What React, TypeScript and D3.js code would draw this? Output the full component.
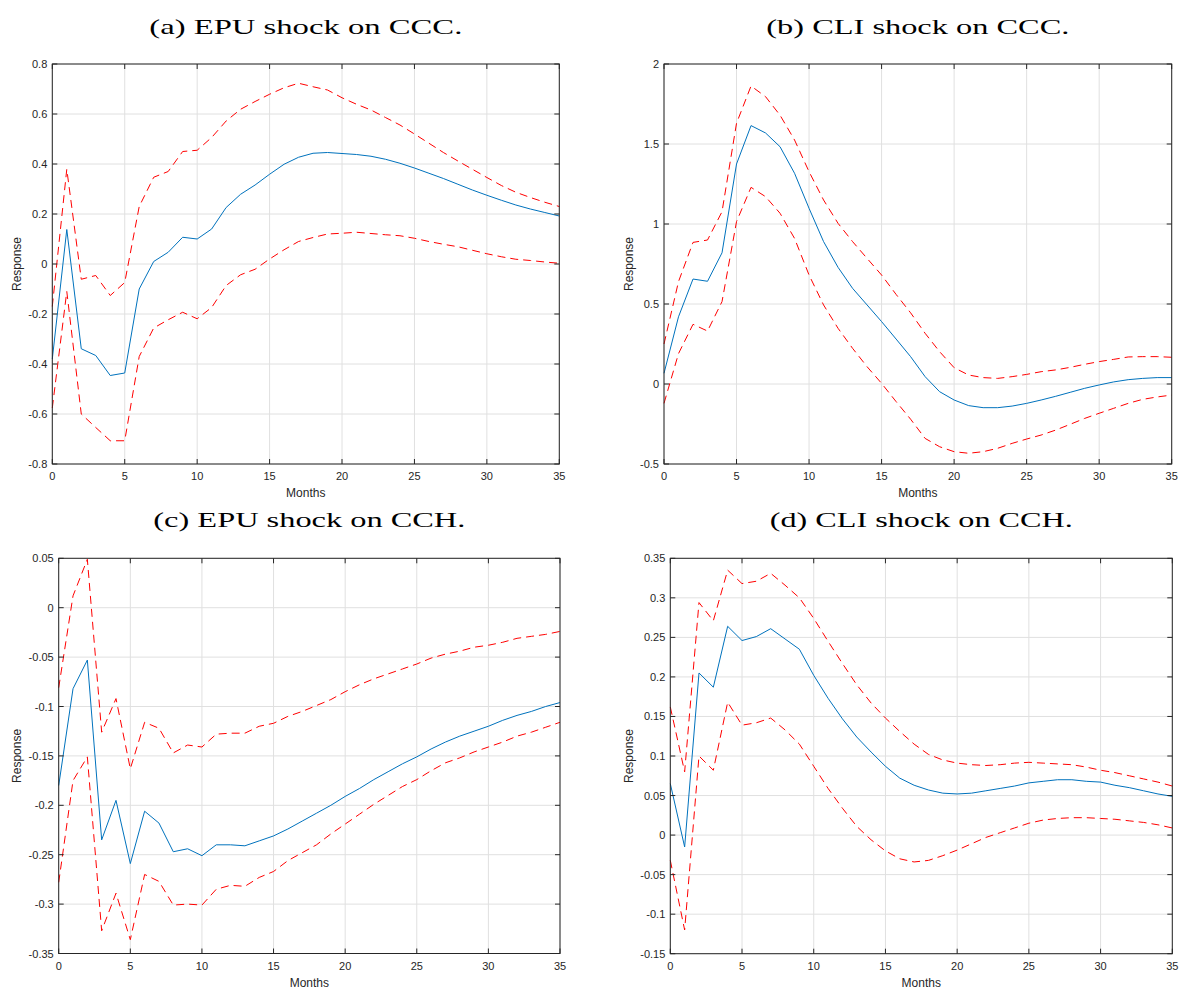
import React from "react";
import * as d3 from "d3";

const months = [0,1,2,3,4,5,6,7,8,9,10,11,12,13,14,15,16,17,18,19,20,21,22,23,24,25,26,27,28,29,30,31,32,33,34,35];
const xTicks = [0, 5, 10, 15, 20, 25, 30, 35];

// (a) EPU shock on CCC
const aMid = [-0.38, 0.138, -0.339, -0.366, -0.446, -0.436, -0.10, 0.01, 0.047, 0.107, 0.10, 0.14, 0.226, 0.279, 0.316, 0.359, 0.399, 0.427, 0.443, 0.446, 0.442, 0.438, 0.431, 0.419, 0.403, 0.384, 0.363, 0.342, 0.319, 0.296, 0.275, 0.255, 0.236, 0.22, 0.206, 0.192];
const aUp = [-0.17, 0.379, -0.061, -0.046, -0.126, -0.074, 0.23, 0.347, 0.37, 0.45, 0.455, 0.506, 0.572, 0.619, 0.65, 0.679, 0.705, 0.723, 0.709, 0.696, 0.665, 0.639, 0.616, 0.586, 0.556, 0.52, 0.483, 0.446, 0.412, 0.379, 0.346, 0.314, 0.287, 0.266, 0.247, 0.23];
const aLo = [-0.576, -0.11, -0.60, -0.654, -0.707, -0.707, -0.37, -0.256, -0.223, -0.193, -0.219, -0.174, -0.086, -0.043, -0.021, 0.02, 0.057, 0.09, 0.106, 0.12, 0.123, 0.127, 0.122, 0.117, 0.113, 0.103, 0.09, 0.079, 0.069, 0.055, 0.041, 0.029, 0.019, 0.014, 0.008, 0.003];
const aYTicks = [-0.8, -0.6, -0.4, -0.2, 0, 0.2, 0.4, 0.6, 0.8];

// (b) CLI shock on CCC
const bMid = [0.067, 0.42, 0.656, 0.642, 0.82, 1.375, 1.615, 1.569, 1.483, 1.317, 1.098, 0.89, 0.729, 0.598, 0.494, 0.39, 0.281, 0.171, 0.046, -0.048, -0.1, -0.135, -0.148, -0.148, -0.138, -0.121, -0.1, -0.077, -0.052, -0.027, -0.006, 0.013, 0.027, 0.035, 0.04, 0.04];
const bUp = [0.25, 0.64, 0.885, 0.9, 1.077, 1.63, 1.8625, 1.796, 1.68, 1.525, 1.327, 1.15, 1.004, 0.89, 0.785, 0.681, 0.56, 0.445, 0.317, 0.202, 0.102, 0.056, 0.04, 0.035, 0.046, 0.06, 0.077, 0.088, 0.104, 0.123, 0.14, 0.154, 0.169, 0.171, 0.171, 0.167];
const bLo = [-0.121, 0.19, 0.373, 0.331, 0.515, 1.015, 1.229, 1.171, 1.067, 0.91, 0.681, 0.494, 0.348, 0.223, 0.108, 0.004, -0.11, -0.22, -0.34, -0.392, -0.423, -0.433, -0.423, -0.402, -0.371, -0.344, -0.319, -0.288, -0.252, -0.215, -0.183, -0.152, -0.121, -0.096, -0.081, -0.069];
const bYTicks = [-0.5, 0, 0.5, 1, 1.5, 2];

// (c) EPU shock on CCH
const cMid = [-0.18, -0.082, -0.053, -0.235, -0.195, -0.259, -0.206, -0.218, -0.247, -0.244, -0.251, -0.240, -0.240, -0.241, -0.236, -0.231, -0.224, -0.216, -0.208, -0.2, -0.191, -0.183, -0.174, -0.166, -0.158, -0.151, -0.143, -0.136, -0.130, -0.125, -0.12, -0.114, -0.109, -0.105, -0.1, -0.096];
const cUp = [-0.081, 0.012, 0.049, -0.126, -0.092, -0.163, -0.116, -0.122, -0.147, -0.139, -0.141, -0.128, -0.127, -0.127, -0.12, -0.117, -0.110, -0.105, -0.099, -0.093, -0.085, -0.078, -0.072, -0.067, -0.062, -0.057, -0.051, -0.047, -0.044, -0.040, -0.038, -0.035, -0.031, -0.029, -0.027, -0.024];
const cLo = [-0.278, -0.175, -0.151, -0.327, -0.289, -0.336, -0.27, -0.277, -0.301, -0.3, -0.301, -0.285, -0.281, -0.282, -0.273, -0.267, -0.256, -0.248, -0.24, -0.229, -0.219, -0.209, -0.199, -0.19, -0.181, -0.174, -0.165, -0.157, -0.152, -0.146, -0.141, -0.136, -0.130, -0.126, -0.121, -0.116];
const cYTicks = [-0.35, -0.3, -0.25, -0.2, -0.15, -0.1, -0.05, 0, 0.05];

// (d) CLI shock on CCH
const dMid = [0.065, -0.015, 0.205, 0.187, 0.264, 0.246, 0.251, 0.261, 0.248, 0.235, 0.202, 0.173, 0.147, 0.124, 0.105, 0.087, 0.072, 0.063, 0.057, 0.053, 0.052, 0.053, 0.056, 0.059, 0.062, 0.066, 0.068, 0.07, 0.07, 0.068, 0.067, 0.063, 0.06, 0.056, 0.052, 0.049];
const dUp = [0.162, 0.08, 0.294, 0.271, 0.335, 0.318, 0.321, 0.331, 0.316, 0.30, 0.274, 0.245, 0.217, 0.19, 0.167, 0.148, 0.131, 0.115, 0.102, 0.095, 0.091, 0.089, 0.088, 0.089, 0.091, 0.092, 0.091, 0.09, 0.089, 0.086, 0.082, 0.079, 0.075, 0.071, 0.067, 0.062];
const dLo = [-0.032, -0.12, 0.10, 0.082, 0.168, 0.139, 0.142, 0.148, 0.133, 0.115, 0.087, 0.059, 0.034, 0.011, -0.006, -0.02, -0.03, -0.034, -0.032, -0.026, -0.019, -0.011, -0.003, 0.003, 0.009, 0.015, 0.019, 0.021, 0.022, 0.022, 0.021, 0.02, 0.018, 0.016, 0.013, 0.009];
const dYTicks = [-0.15, -0.1, -0.05, 0, 0.05, 0.1, 0.15, 0.2, 0.25, 0.3, 0.35];

const titles = ["(a) EPU shock on CCC.", "(b) CLI shock on CCC.", "(c) EPU shock on CCH.", "(d) CLI shock on CCH."];

const panels = [
  { title: titles[0], mid: aMid, up: aUp, lo: aLo, yTicks: aYTicks, left: 52.3, right: 559.3, top: 64, bottom: 464, titleY: 34, titleW: 313, ylabX: 21 },
  { title: titles[1], mid: bMid, up: bUp, lo: bLo, yTicks: bYTicks, left: 664, right: 1171.7, top: 64, bottom: 464, titleY: 34, titleW: 303, ylabX: 633 },
  { title: titles[2], mid: cMid, up: cUp, lo: cLo, yTicks: cYTicks, left: 58.7, right: 560, top: 558.3, bottom: 953.5, titleY: 527, titleW: 312, ylabX: 21 },
  { title: titles[3], mid: dMid, up: dUp, lo: dLo, yTicks: dYTicks, left: 670.3, right: 1172.3, top: 558.3, bottom: 953.7, titleY: 527, titleW: 303, ylabX: 633 },
];

const AX = "#262626";
const GRID = "#e0e0e0";
const SANS = "'Liberation Sans', Arial, Helvetica, sans-serif";
const SERIF = "'Liberation Serif', 'Times New Roman', serif";

function fmt(v: number) {
  return String(+v.toFixed(2));
}

function Panel({ p }: { p: typeof panels[number] }) {
  const x = d3.scaleLinear().domain([0, 35]).range([p.left, p.right]);
  const yExt = d3.extent(p.yTicks) as [number, number];
  const y = d3.scaleLinear().domain(yExt).range([p.bottom, p.top]);
  const line = d3.line<number>().x((_, i) => x(months[i])).y((d) => y(d));
  const tl = 5;
  const cx = (p.left + p.right) / 2;
  return (
    <g>
      <text x={cx} y={p.titleY} textAnchor="middle" fontFamily={SERIF} fontSize={22} fill="#000"
        textLength={p.titleW} lengthAdjust="spacingAndGlyphs">{p.title}</text>
      {xTicks.map((t) => (
        <line key={"gx" + t} x1={x(t)} x2={x(t)} y1={p.top} y2={p.bottom} stroke={GRID} strokeWidth={1} />
      ))}
      {p.yTicks.map((t) => (
        <line key={"gy" + t} x1={p.left} x2={p.right} y1={y(t)} y2={y(t)} stroke={GRID} strokeWidth={1} />
      ))}
      <path d={line(p.up) || ""} fill="none" stroke="#ff0000" strokeWidth={1} strokeDasharray="8,5" />
      <path d={line(p.lo) || ""} fill="none" stroke="#ff0000" strokeWidth={1} strokeDasharray="8,5" />
      <path d={line(p.mid) || ""} fill="none" stroke="#0072bd" strokeWidth={1} />
      <rect x={p.left} y={p.top} width={p.right - p.left} height={p.bottom - p.top} fill="none" stroke={AX} strokeWidth={1} />
      {xTicks.map((t) => (
        <g key={"tx" + t}>
          <line x1={x(t)} x2={x(t)} y1={p.bottom} y2={p.bottom - tl} stroke={AX} />
          <line x1={x(t)} x2={x(t)} y1={p.top} y2={p.top + tl} stroke={AX} />
          <text x={x(t)} y={p.bottom + 16} textAnchor="middle" fontFamily={SANS} fontSize={11} fill={AX}>{t}</text>
        </g>
      ))}
      {p.yTicks.map((t) => (
        <g key={"ty" + t}>
          <line x1={p.left} x2={p.left + tl} y1={y(t)} y2={y(t)} stroke={AX} />
          <line x1={p.right} x2={p.right - tl} y1={y(t)} y2={y(t)} stroke={AX} />
          <text x={p.left - 5} y={y(t) + 4} textAnchor="end" fontFamily={SANS} fontSize={11} fill={AX}>{fmt(t)}</text>
        </g>
      ))}
      <text x={cx} y={p.bottom + 33} textAnchor="middle" fontFamily={SANS} fontSize={12} fill={AX}>Months</text>
      <text transform={`translate(${p.ylabX},${(p.top + p.bottom) / 2}) rotate(-90)`} textAnchor="middle"
        fontFamily={SANS} fontSize={12} fill={AX}>Response</text>
    </g>
  );
}

export default function App() {
  return (
    <svg width={1185} height={989} style={{ position: "absolute", left: 0, top: 0, background: "#fff" }}>
      <rect x={0} y={0} width={1185} height={989} fill="#fff" />
      {panels.map((p, i) => <Panel key={i} p={p} />)}
    </svg>
  );
}
